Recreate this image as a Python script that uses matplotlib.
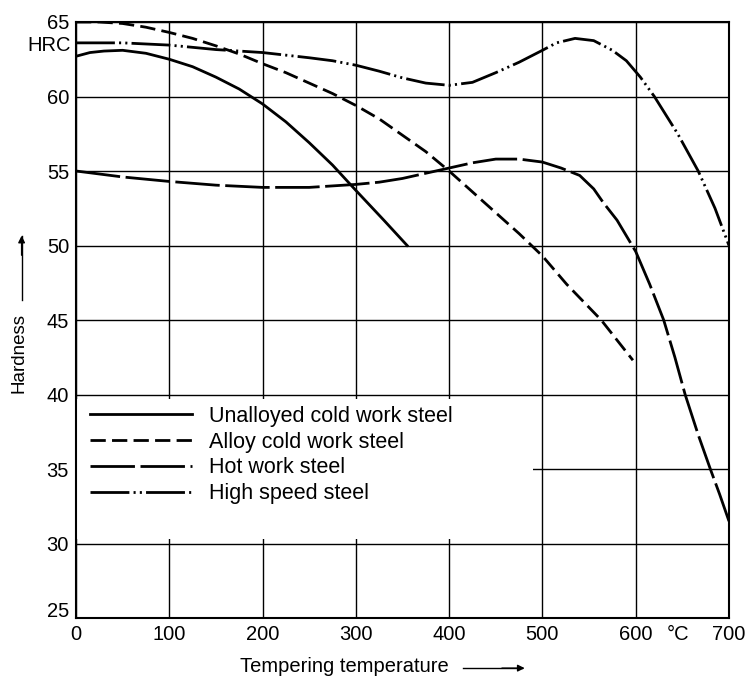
import matplotlib
matplotlib.use("Agg")
import matplotlib.pyplot as plt
import matplotlib.transforms as mtransforms
from matplotlib.patches import Rectangle

plt.rcParams['font.family'] = ['Liberation Sans', 'DejaVu Sans']
plt.rcParams['lines.scale_dashes'] = False

# Unalloyed cold work steel
unalloyed_t = [0, 15, 30, 50, 75, 100, 125, 150, 175, 200, 225, 250, 275, 300, 330, 355]
unalloyed_h = [62.7, 62.95, 63.05, 63.1, 62.9, 62.5, 62.0, 61.3, 60.5, 59.5, 58.3, 56.9, 55.4,
               53.7, 51.7, 50.0]

# Alloy cold work steel
alloy_t = [0, 25, 50, 75, 100, 125, 150, 175, 200, 225, 250, 275, 300, 325, 350, 375, 400,
           425, 450, 475, 500, 526, 563, 597]
alloy_h = [65.0, 65.0, 64.9, 64.65, 64.3, 63.9, 63.4, 62.85, 62.2, 61.6, 60.9, 60.2, 59.4,
           58.5, 57.4, 56.3, 55.0, 53.6, 52.2, 50.8, 49.3, 47.4, 45.0, 42.3]

# Hot work steel
hot_t = [0, 25, 50, 75, 100, 150, 200, 250, 300, 325, 350, 375, 400, 425, 450, 475, 500, 520,
         540, 555, 565, 580, 600, 615, 630, 642, 653, 667, 680, 690, 700]
hot_h = [55.0, 54.8, 54.6, 54.45, 54.3, 54.05, 53.9, 53.9, 54.1, 54.25, 54.5, 54.85, 55.2,
         55.55, 55.8, 55.8, 55.6, 55.2, 54.7, 53.8, 52.9, 51.7, 49.6, 47.4, 45.0, 42.5, 40.0,
         37.3, 35.0, 33.3, 31.5]

# High speed steel
hss_t = [0, 50, 100, 150, 200, 250, 275, 300, 325, 350, 375, 400, 425, 450, 475, 500, 515,
         535, 555, 575, 590, 605, 620, 645, 667, 685, 700]
hss_h = [63.6, 63.6, 63.45, 63.15, 62.95, 62.6, 62.4, 62.1, 61.7, 61.25, 60.9, 60.75, 60.95,
         61.6, 62.3, 63.1, 63.6, 63.9, 63.75, 63.1, 62.4, 61.3, 60.0, 57.5, 55.0, 52.5, 50.0]

x_ticks = [0, 100, 200, 300, 400, 500, 600, 700]
y_ticks = [25, 30, 35, 40, 45, 50, 55, 60, 65]

labels = ['Unalloyed cold work steel', 'Alloy cold work steel',
          'Hot work steel', 'High speed steel']

fig = plt.figure(figsize=(7.45, 6.79), dpi=100)
ax = fig.add_axes([0.102, 0.0898, 0.8765, 0.8778])

lw = 2.0
ax.plot(unalloyed_t, unalloyed_h, color='black', lw=lw, ls='-', label=labels[0], zorder=3)
ax.plot(alloy_t, alloy_h, color='black', lw=lw, ls=(0, (11, 4.5)), label=labels[1], zorder=3)
ax.plot(hot_t, hot_h, color='black', lw=lw, ls=(0, (32, 4)), label=labels[2], zorder=3)
ax.plot(hss_t, hss_h, color='black', lw=lw, ls=(0, (28, 3, 1.5, 3, 1.5, 3)),
        label=labels[3], zorder=3)

ax.set_xlim(0, 700)
ax.set_ylim(25, 65)
ax.set_xticks(x_ticks)
ax.set_yticks(y_ticks)
ax.set_xticklabels([str(v) for v in x_ticks])
ax.set_yticklabels([str(v) for v in y_ticks])
ax.tick_params(length=0, labelsize=14.5, pad=5)
ax.grid(True, color='black', lw=1.0)
ax.set_axisbelow(True)
for s in ax.spines.values():
    s.set_linewidth(1.5)

# shift the "25" label up a bit so it does not collide with "0"
lab25 = ax.get_yticklabels()[0]
lab25.set_transform(lab25.get_transform()
                    + mtransforms.ScaledTranslation(0, 6 / 72, fig.dpi_scale_trans))

# white area behind the legend
ax.add_patch(Rectangle((0, 0.132), 0.70, 0.235, transform=ax.transAxes,
                       facecolor='white', edgecolor='none', zorder=1))

leg = ax.legend(loc='upper left', bbox_to_anchor=(0.022, 0.356), frameon=False,
                fontsize=15.5, handlelength=4.7, handletextpad=0.8,
                labelspacing=0.22, borderpad=0, borderaxespad=0)

trans = mtransforms.blended_transform_factory(ax.transAxes, ax.transData)
ax.text(-0.008, 63.45, 'HRC', transform=trans, ha='right', va='center', fontsize=14.5)
ax.text(645, 25, '°C', ha='center', va='top', fontsize=14.5,
        transform=ax.transData + mtransforms.ScaledTranslation(0, -5 / 72, fig.dpi_scale_trans))

# axis titles with arrows
fig.text(0.026, 0.48, 'Hardness', rotation=90, ha='center', va='center', fontsize=13.5)
fig.add_artist(plt.Line2D([0.029, 0.029], [0.558, 0.652], color='black', lw=1.0))
ax.annotate('', xy=(0.029, 0.657), xytext=(0.029, 0.62), xycoords='figure fraction',
            arrowprops=dict(arrowstyle='-|>', color='black', lw=1.0, mutation_scale=10))

fig.text(0.462, 0.018, 'Tempering temperature', ha='center', va='center', fontsize=14.5)
fig.add_artist(plt.Line2D([0.621, 0.700], [0.016, 0.016], color='black', lw=1.0))
ax.annotate('', xy=(0.708, 0.016), xytext=(0.67, 0.016), xycoords='figure fraction',
            arrowprops=dict(arrowstyle='-|>', color='black', lw=1.0, mutation_scale=10))

fig.savefig('out.png', dpi=100)
